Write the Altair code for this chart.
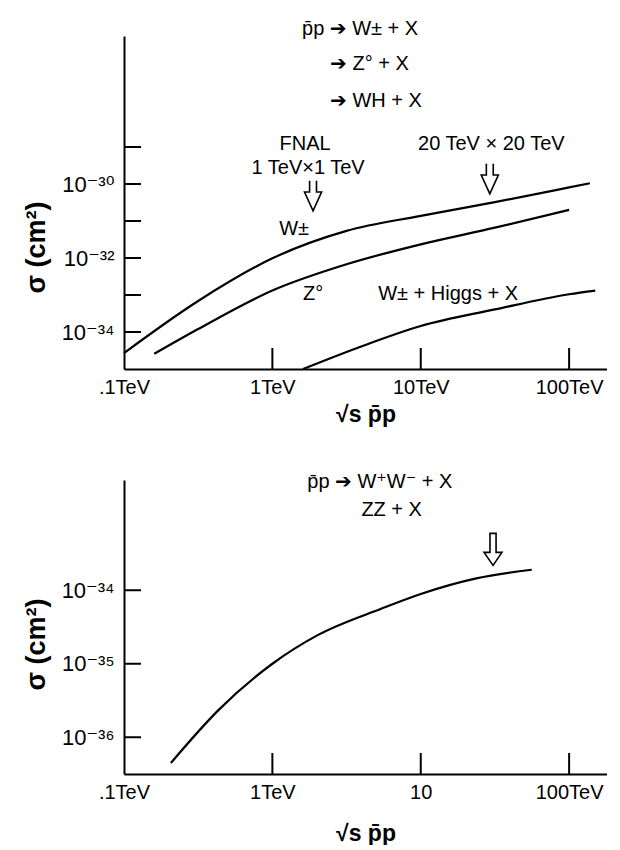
import altair as alt
import pandas as pd
import math

FONT = "Liberation Sans, DejaVu Sans, sans-serif"

# ---- data ----
# top panel: pbar-p -> W+X, Z+X, WH+X   (x: sqrt(s) in TeV, y: sigma in cm^2)
w_x = [0.1, 0.316, 1, 3.16, 10, 31.6, 100, 138]
w_y = [2.7e-35, 6.9e-34, 9.8e-33, 5.4e-32, 1.38e-31, 3.24e-31, 8.1e-31, 1.05e-30]
z_x = [0.16, 0.316, 1, 3.16, 10, 31.6, 100]
z_y = [2.57e-35, 1.2e-34, 1.32e-33, 6.76e-33, 2.34e-32, 6.6e-32, 2.0e-31]
wh_x = [1.61, 3.73, 10, 31.6, 100, 150]
wh_y = [1e-35, 3.7e-35, 1.45e-34, 4.07e-34, 1.05e-33, 1.32e-33]
# bottom panel: pbar-p -> W+W- + X, ZZ + X
ww_x = [0.207, 0.433, 1, 2.02, 5.41, 10, 23.7, 56]
ww_y = [4.47e-37, 2.34e-36, 1e-35, 2.45e-35, 5.6e-35, 8.9e-35, 1.45e-34, 1.9e-34]

x_tick_values = [0.1, 1, 10, 100]
x_labels_top = [".1TeV", "1TeV", "10TeV", "100TeV"]
x_labels_bot = [".1TeV", "1TeV", "10", "100TeV"]
x_inner_ticks = [1, 10, 100]

top_y_ticks = [1e-29, 1e-30, 1e-31, 1e-32, 1e-33, 1e-34]
top_y_label_values = [1e-30, 1e-32, 1e-34]
top_y_labels = ["10⁻³⁰", "10⁻³²", "10⁻³⁴"]
bot_y_ticks = [1e-34, 1e-35, 1e-36]
bot_y_labels = ["10⁻³⁴", "10⁻³⁵", "10⁻³⁶"]

top_left_text = ["p̄p ➔ W± + X", "➔ Z° + X", "➔ WH + X"]
top_left_x = [1.585, 2.45, 2.45]
top_left_y = [1.55e-26, 1.74e-27, 1.74e-28]
top_center_text = ["FNAL", "1 TeV×1 TeV", "20 TeV × 20 TeV", "W±", "Z°", "W± + Higgs + X"]
top_center_x = [1.66, 1.74, 29.9, 1.40, 1.88, 15.3]
top_center_y = [1.2e-29, 2.7e-30, 1.2e-29, 6.0e-32, 1.07e-33, 1.07e-33]
top_arrow_x = [1.88, 29.2]
top_arrow_y = [4.8e-31, 1.38e-30]

bot_text = ["p̄p ➔ W⁺W⁻ + X", "ZZ + X"]
bot_text_x = [1.72, 3.98]
bot_text_y = [2.95e-33, 1.23e-33]
bot_arrow_x = [30.7]
bot_arrow_y = [3.6e-34]

# ---- layout ----
W = 483
H_TOP = 333
H_BOT = 294
XDOM = [0.1, 180]
TOP_YDOM = [1e-35, 1e-26]
BOT_YDOM = [10 ** -36.5, 10 ** -32.5]


def x_label_expr(labels):
    return "[" + ",".join("'" + s + "'" for s in labels) + "][round(log(datum.value)/LN10)+1]"


def y_label_expr(values, labels):
    expr = "''"
    for v, s in zip(values, labels):
        e = round(-math.log10(v))
        expr = f"(round(-log(datum.value)/LN10)=={e}) ? '{s}' : ({expr})"
    return expr


def panel(curves, ytick_vals, ylab_vals, ylabs, xlabs, ydom, height, ytitleY, xtitlePad,
          left_texts, center_texts, arrows, arrow_shape, arrow_filled):
    xaxis = alt.Axis(
        values=x_tick_values, labelExpr=x_label_expr(xlabs), ticks=False,
        grid=False, domainColor="black", domainWidth=2, labelFontSize=20,
        labelFont=FONT, labelColor="black", labelPadding=8, labelFlush=False,
        title="√s p̄p", titleFontSize=23, titleFont=FONT, titleColor="black",
        titleFontWeight="bold", titlePadding=xtitlePad, labelOverlap=False)
    yaxis = alt.Axis(
        values=ylab_vals, labelExpr=y_label_expr(ylab_vals, ylabs), ticks=False,
        grid=False, domainColor="black", domainWidth=2, labelFontSize=22,
        labelFont=FONT, labelColor="black", labelPadding=10, labelFlush=False,
        title="σ (cm²)", titleFontSize=27, titleFont=FONT, titleColor="black",
        titleFontWeight="bold", titleAngle=270, titleX=-74, titleY=ytitleY,
        titleAlign="center", titleBaseline="bottom", labelOverlap=False)

    def X():
        return alt.X("x:Q", scale=alt.Scale(type="log", domain=XDOM), axis=xaxis)

    def Y():
        return alt.Y("y:Q", scale=alt.Scale(type="log", domain=ydom), axis=yaxis)

    layers = []
    for cx, cy in curves:
        df = pd.DataFrame({"x": cx, "y": cy})
        layers.append(alt.Chart(df).mark_line(color="black", strokeWidth=2.2,
                                              interpolate="monotone", clip=False)
                      .encode(x=X(), y=Y()))
    # inward ticks
    layers.append(alt.Chart(pd.DataFrame({"y": ytick_vals})).mark_rule(color="black", strokeWidth=2)
                  .encode(y=Y(), x=alt.value(0), x2=alt.value(17)))
    layers.append(alt.Chart(pd.DataFrame({"x": x_inner_ticks})).mark_rule(color="black", strokeWidth=2)
                  .encode(x=X(), y=alt.value(height), y2=alt.value(height - 21)))
    # texts
    if left_texts:
        t, tx, ty = left_texts
        layers.append(alt.Chart(pd.DataFrame({"t": t, "x": tx, "y": ty})).mark_text(
            align="left", baseline="middle", fontSize=20, font=FONT, color="black")
            .encode(x=X(), y=Y(), text="t:N"))
    if center_texts:
        t, tx, ty = center_texts
        layers.append(alt.Chart(pd.DataFrame({"t": t, "x": tx, "y": ty})).mark_text(
            align="center", baseline="middle", fontSize=20, font=FONT, color="black")
            .encode(x=X(), y=Y(), text="t:N"))
    ax, ay, asize = arrows
    pt = dict(shape=arrow_shape, size=asize, stroke="black", strokeWidth=1.6, opacity=1)
    if arrow_filled:
        mk = alt.Chart(pd.DataFrame({"x": ax, "y": ay})).mark_point(filled=True, fill="white", **pt)
    else:
        mk = alt.Chart(pd.DataFrame({"x": ax, "y": ay})).mark_point(filled=False, **pt)
    layers.append(mk.encode(x=X(), y=Y()))
    return alt.layer(*layers).properties(width=W, height=height)


top_arrow_shape = "M-0.23,-1L-0.23,-0.25L-0.57,-0.25L0,1L0.57,-0.25L0.23,-0.25L0.23,-1"
bot_arrow_shape = "M-0.19,-1L0.19,-1L0.19,0.19L0.56,0.19L0,1L-0.56,0.19L-0.19,0.19Z"

top = panel([(w_x, w_y), (z_x, z_y), (wh_x, wh_y)], top_y_ticks, top_y_label_values, top_y_labels,
            x_labels_top, TOP_YDOM, H_TOP, 211, 6,
            (top_left_text, top_left_x, top_left_y),
            (top_center_text, top_center_x, top_center_y),
            (top_arrow_x, top_arrow_y, 900), top_arrow_shape, False)

bot = panel([(ww_x, ww_y)], bot_y_ticks, bot_y_ticks, bot_y_labels,
            x_labels_bot, BOT_YDOM, H_BOT, 164, 20,
            (bot_text, bot_text_x, bot_text_y), None,
            (bot_arrow_x, bot_arrow_y, 1024), bot_arrow_shape, True)

chart = alt.vconcat(top, bot, spacing=46).properties(
    padding={"top": 10, "left": 14, "right": 0, "bottom": 0},
    background="white",
).configure_view(stroke=None)

chart.save("out.html", embed_options={"renderer": "svg", "actions": False})
